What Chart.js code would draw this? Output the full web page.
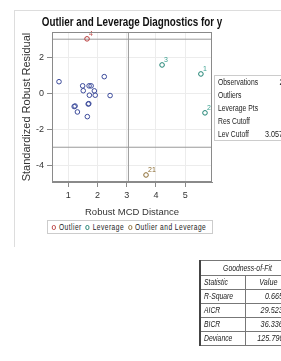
<!DOCTYPE html>
<html>
<head>
<meta charset="utf-8">
<script src="https://cdn.jsdelivr.net/npm/chart.js@4"></script>
<style>
  body { margin: 0; background: #fff; width: 281px; height: 361px; overflow: hidden; position: relative; font-family: 'Liberation Sans', Arial, sans-serif; }
  .nx { display: inline-block; transform: scaleX(0.8); white-space: nowrap; }
  #frame { position: absolute; left: 14px; top: 10px; width: 300px; height: 236px; border-left: 1px solid #ddd; border-top: 1px solid #ddd; }
  #wrap { position: absolute; left: 0; top: 0; width: 281px; height: 220px; }
  #title { position: absolute; left: 0; width: 264px; top: 15px; text-align: center; font-weight: bold; font-size: 12px; color: #111; }
  #title .nx { transform: scaleX(0.82); }
  #legend { position: absolute; left: 47px; top: 220px; width: 164px; height: 12px; border: 1px solid #ccc; font-size: 8.5px; letter-spacing: 0.6px; color: #222; line-height: 12px; white-space: nowrap; overflow: hidden; }
  #legend .nx { transform-origin: left center; transform: scaleX(0.78); color: #222; }
  #legend span.m { display: inline-block; width: 3px; height: 3px; border: 1px solid; border-radius: 2px; margin: 0 4px 1px 5px; vertical-align: middle; }
  #inset { position: absolute; left: 214px; top: 75px; width: 74px; height: 64px; border: 1px solid #ccc; font-size: 8.5px; color: #222; }
  #inset div { position: relative; height: 13px; line-height: 13px; }
  #inset div b { font-weight: normal; position: absolute; left: 3px; transform: scaleX(0.8); transform-origin: left center; white-space: nowrap; }
  #inset div i { font-style: normal; position: absolute; right: 2px; transform: scaleX(0.85); transform-origin: right center; }
  #gof { position: absolute; left: 199px; top: 260px; width: 92px; font-size: 8.5px; font-style: italic; color: #222; border-left: 2px solid #444; }
  #gof div.r { position: relative; height: 13px; border-top: 1px solid #777; line-height: 13px; }
  #gof div.r:last-child { border-bottom: 1px solid #777; }
  #gof div.h { height: 14px; line-height: 14px; text-align: center; }
  #gof span.s { position: absolute; left: 3px; transform: scaleX(0.8); transform-origin: left center; white-space: nowrap; }
  #gof span.v { position: absolute; left: 44px; width: 44px; top: 0; bottom: 0; border-left: 1px solid #777; text-align: right; }
  #gof span.v em { display: inline-block; transform: scaleX(0.85); transform-origin: right center; margin-right: 3px; }
</style>
</head>
<body>
<div id="frame"></div>
<div id="wrap"><canvas id="chart"></canvas></div>
<div id="title"><span class="nx">Outlier and Leverage Diagnostics for y</span></div>
<div id="legend"><span class="nx"><span class="m" style="border-color:#b83a3a"></span>Outlier<span class="m" style="border-color:#1b8070"></span>Leverage<span class="m" style="border-color:#8a6a30"></span>Outlier and Leverage</span></div>
<div id="inset"></div>
<div id="gof"></div>
<script>
// observations by diagnostic class (x = robust MCD distance, y = std robust residual)
const normalX = [0.68, 2.23, 1.49, 1.51, 1.71, 1.78, 1.89, 1.72, 1.92, 2.43, 1.20, 1.23, 1.31, 1.70, 1.68, 1.65];
const normalY = [0.64, 0.92, 0.41, 0.14, 0.41, 0.41, 0.13, -0.11, -0.11, -0.13, -0.74, -0.71, -1.04, -0.58, -0.60, -1.30];

const outlierX = [1.64];
const outlierY = [3.02];
const outlierLabels = ['4'];

const leverageX = [5.54, 5.68, 4.21];
const leverageY = [1.07, -1.09, 1.57];
const leverageLabels = ['1', '2', '3'];

const bothX = [3.66];
const bothY = [-4.54];
const bothLabels = ['21'];

const resCutoff = 3;
const levCutoff = 3.0575;

const xTicks = [1, 2, 3, 4, 5];
const yTicks = [-4, -2, 0, 2];
const xMin = 0.44, xMax = 5.92;
const yMin = -4.93, yMax = 3.4;

const insetNames = ['Observations', 'Outliers', 'Leverage Pts', 'Res Cutoff', 'Lev Cutoff'];
const insetValues = ['21', '2', '4', '3', '3.0575'];

const gofNames = ['R-Square', 'AICR', 'BICR', 'Deviance'];
const gofValues = ['0.6656', '29.5231', '36.3361', '125.7909'];

const pts = (xs, ys) => xs.map((x, i) => ({ x: x, y: ys[i] }));

function markerSet(label, xs, ys, color, labels, labelColor) {
  return {
    label: label,
    data: pts(xs, ys),
    borderColor: color,
    backgroundColor: 'rgba(0,0,0,0)',
    borderWidth: 1,
    pointRadius: 2.3,
    pointLabels: labels,
    labelColor: labelColor,
    order: 1
  };
}

function refLine(data) {
  return {
    type: 'line',
    data: data,
    borderColor: '#9a9a9a',
    borderWidth: 1,
    pointRadius: 0,
    order: 10
  };
}

const pointLabelPlugin = {
  id: 'pointLabels',
  afterDatasetsDraw(chart) {
    const ctx = chart.ctx;
    ctx.save();
    ctx.font = '7px "Liberation Sans", Arial';
    ctx.textBaseline = 'bottom';
    chart.data.datasets.forEach((ds, di) => {
      if (!ds.pointLabels) return;
      const meta = chart.getDatasetMeta(di);
      ctx.fillStyle = ds.labelColor;
      meta.data.forEach((el, i) => {
        ctx.fillText(ds.pointLabels[i], el.x + 2, el.y - 1);
      });
    });
    ctx.restore();
  }
};

const framePlugin = {
  id: 'frame',
  afterDraw(chart) {
    const a = chart.chartArea;
    const ctx = chart.ctx;
    ctx.save();
    ctx.strokeStyle = '#8a8a8a';
    ctx.lineWidth = 1;
    ctx.strokeRect(a.left + 0.5, a.top + 0.5, a.right - a.left - 1, a.bottom - a.top - 1);
    ctx.restore();
  }
};

new Chart(
  document.getElementById('chart'),
  {
    type: 'scatter',

    data: {
      datasets: [
        markerSet('Normal', normalX, normalY, '#3b4a9a', null, null),
        markerSet('Outlier', outlierX, outlierY, '#b83a3a', outlierLabels, '#c0504d'),
        markerSet('Leverage', leverageX, leverageY, '#1b8070', leverageLabels, '#3aa090'),
        markerSet('Outlier and Leverage', bothX, bothY, '#8a6a30', bothLabels, '#8a6a30'),
        refLine([{ x: xMin, y: resCutoff }, { x: xMax, y: resCutoff }]),
        refLine([{ x: xMin, y: -resCutoff }, { x: xMax, y: -resCutoff }]),
        refLine([{ x: levCutoff, y: yMin }, { x: levCutoff, y: yMax }])
      ]
    },

    options: {
      responsive: true,
      maintainAspectRatio: false,
      animation: false,
      layout: { padding: { top: 32, right: 69, left: 0, bottom: 0 } },
      plugins: {
        legend: { display: false },
        tooltip: { enabled: false }
      },
      scales: {
        x: {
          type: 'linear',
          min: xMin,
          max: xMax,
          afterBuildTicks: s => { s.ticks = xTicks.map(v => ({ value: v })); },
          afterFit: s => { s.height = 38; },
          grid: { color: '#ececec', tickColor: '#8a8a8a', tickLength: 5 },
          border: { color: '#8a8a8a' },
          ticks: { color: '#333', font: { size: 9, family: 'Liberation Sans, Arial' }, padding: 3, maxRotation: 0 },
          title: {
            display: true,
            text: 'Robust MCD Distance',
            color: '#333',
            font: { size: 9.5, family: 'Liberation Sans, Arial' },
            padding: { top: 0, bottom: 2 }
          }
        },
        y: {
          type: 'linear',
          min: yMin,
          max: yMax,
          afterBuildTicks: s => { s.ticks = yTicks.map(v => ({ value: v })); },
          afterFit: s => { s.width = 52; },
          grid: { color: '#ececec', tickColor: '#8a8a8a', tickLength: 5 },
          border: { color: '#8a8a8a' },
          ticks: { color: '#333', font: { size: 9, family: 'Liberation Sans, Arial' }, padding: 3 },
          title: {
            display: true,
            text: 'Standardized Robust Residual',
            color: '#333',
            font: { size: 11, family: 'Liberation Sans, Arial' },
            padding: { top: 20, bottom: 0 }
          }
        }
      }
    },

    plugins: [pointLabelPlugin, framePlugin]
  }
);

// inset statistics
document.getElementById('inset').innerHTML =
  insetNames.map((n, i) => '<div><b>' + n + '</b><i>' + insetValues[i] + '</i></div>').join('');

// goodness-of-fit table
document.getElementById('gof').innerHTML =
  '<div class="r h"><span class="nx">Goodness-of-Fit</span></div>' +
  '<div class="r"><span class="s">Statistic</span><span class="v" style="text-align:center"><em>Value</em></span></div>' +
  gofNames.map((n, i) => '<div class="r"><span class="s">' + n + '</span><span class="v"><em>' + gofValues[i] + '</em></span></div>').join('');
</script>
</body>
</html>
